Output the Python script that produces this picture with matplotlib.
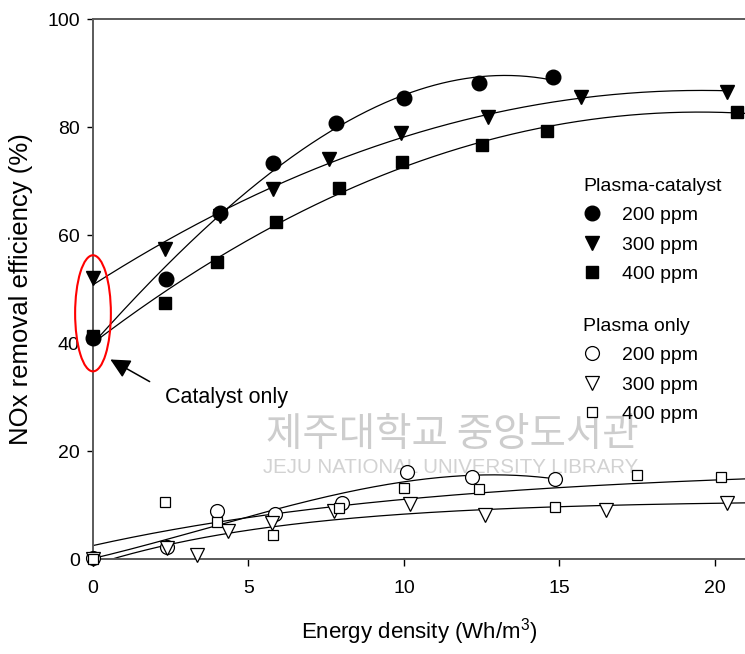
import numpy as np
import matplotlib
matplotlib.use("Agg")
import matplotlib.pyplot as plt
from matplotlib.patches import Ellipse
from matplotlib.lines import Line2D

plt.rcParams['font.family'] = ['Liberation Sans', 'DejaVu Sans']
plt.rcParams['mathtext.fontset'] = 'custom'
plt.rcParams['mathtext.rm'] = 'Liberation Sans'
plt.rcParams['mathtext.it'] = 'Liberation Sans'

# Energy density (Wh/m3) and NOx removal efficiency (%)
# Plasma-catalyst
pc200_x = [0, 2.35, 4.1, 5.8, 7.8, 10.0, 12.4, 14.8]
pc200_y = [40.9, 51.8, 64.0, 73.3, 80.7, 85.4, 88.1, 89.3]
pc300_x = [0, 2.3, 4.1, 5.8, 7.6, 9.9, 12.7, 15.7, 20.4]
pc300_y = [52.0, 57.5, 63.5, 68.5, 74.0, 78.9, 81.9, 85.6, 86.5]
pc400_x = [0, 2.3, 4.0, 5.9, 7.9, 9.95, 12.5, 14.6, 20.7]
pc400_y = [41.3, 47.4, 55.0, 62.4, 68.7, 73.5, 76.7, 79.3, 82.8]

# Plasma only
po200_x = [0, 2.37, 4.0, 5.84, 8.0, 10.1, 12.2, 14.85]
po200_y = [0.2, 2.3, 8.8, 8.3, 10.3, 16.2, 15.1, 14.8]
po300_x = [0, 2.37, 3.36, 4.35, 5.77, 7.75, 10.2, 12.6, 16.5, 20.4]
po300_y = [0, 2.0, 0.7, 5.2, 6.6, 8.8, 10.2, 8.1, 9.1, 10.3]
po400_x = [0, 2.3, 4.0, 5.8, 7.9, 10.0, 12.4, 14.85, 17.5, 20.2]
po400_y = [0, 10.6, 6.9, 4.4, 9.4, 13.1, 12.9, 9.6, 15.6, 15.2]

conc_labels = ["200 ppm", "300 ppm", "400 ppm"]
x_ticks = [0, 5, 10, 15, 20]
y_ticks = [0, 20, 40, 60, 80, 100]


def poly_trend(x, y, deg, x_end):
    coef = np.polyfit(x, y, deg)
    xs = np.linspace(0, x_end, 300)
    return xs, np.polyval(coef, xs)


def rise_trend(x, y, x_end):
    """Least-squares fit of y = y0 + a * (1 - exp(-b x))."""
    x = np.asarray(x, float)
    y = np.asarray(y, float)
    best = None
    for b in np.linspace(0.01, 1.5, 600):
        basis = np.column_stack([np.ones_like(x), 1 - np.exp(-b * x)])
        coef, *_ = np.linalg.lstsq(basis, y, rcond=None)
        err = np.sum((basis @ coef - y) ** 2)
        if best is None or err < best[0]:
            best = (err, b, coef)
    _, b, (y0, a) = best
    xs = np.linspace(0, x_end, 300)
    return xs, y0 + a * (1 - np.exp(-b * xs))


fig = plt.figure(figsize=(7.45, 6.54), dpi=100)
ax = fig.add_axes([93 / 745, 95 / 654, 652 / 745, 540 / 654])
ax.set_xlim(0, 20.97)
ax.set_ylim(0, 100)

# regression curves
line_kw = dict(color='black', lw=0.9, zorder=2)
ax.plot(*poly_trend(pc200_x, pc200_y, 3, max(pc200_x)), **line_kw)
ax.plot(*poly_trend(pc300_x, pc300_y, 2, max(pc300_x)), **line_kw)
ax.plot(*poly_trend(pc400_x, pc400_y, 2, 21), **line_kw)
ax.plot(*poly_trend(po200_x, po200_y, 3, max(po200_x)), **line_kw)
ax.plot(*rise_trend(po300_x, po300_y, 21), **line_kw)
ax.plot(*rise_trend(po400_x, po400_y, 21), **line_kw)

# markers
filled = dict(color='black', ls='none', clip_on=False, zorder=4)
ax.plot(pc200_x, pc200_y, marker='o', ms=10.5, **filled)
ax.plot(pc300_x, pc300_y, marker='v', ms=10.5, **filled)
ax.plot(pc400_x, pc400_y, marker='s', ms=9, **filled)

hollow = dict(mfc='white', mec='black', mew=0.9, ls='none', clip_on=False, zorder=4)
ax.plot(po200_x, po200_y, marker='o', ms=10, **hollow)
ax.plot(po300_x, po300_y, marker='v', ms=10, **hollow)
ax.plot(po400_x, po400_y, marker='s', ms=7.8, **hollow)

# axes styling
for side in ['left', 'top', 'bottom']:
    ax.spines[side].set_color('#5a5a5a')
    ax.spines[side].set_linewidth(1.4)
ax.spines['right'].set_visible(False)
ax.set_xticks(x_ticks)
ax.set_yticks(y_ticks)
ax.tick_params(axis='x', direction='out', length=5, width=1, pad=10, labelsize=14)
ax.tick_params(axis='y', direction='out', length=4.5, width=1, pad=5, labelsize=14)
ax.set_xlabel('Energy density (Wh/m$^{3}$)', fontsize=16, labelpad=14)
ax.set_ylabel('NOx removal efficiency (%)', fontsize=18.5, labelpad=10)

# catalyst-only highlight
ax.add_patch(Ellipse((0, 45.5), width=1.15, height=21.5, edgecolor='red',
                     facecolor='none', lw=1.5, clip_on=False, zorder=5))
ax.annotate('', xy=(0.48, 37.2), xytext=(1.9, 32.6),
            arrowprops=dict(arrowstyle='-|>,head_length=0.6,head_width=0.3',
                            mutation_scale=20, color='black', lw=1.1))
ax.text(2.3, 30.0, 'Catalyst only', fontsize=15.5, ha='left', va='center')

# library watermark
ax.text(0.551, 0.229, '제주대학교 중앙도서관', transform=ax.transAxes,
        family=['Noto Sans CJK KR', 'DejaVu Sans'], fontsize=28.5,
        color='#cdcdcd', ha='center', va='center', zorder=0)
ax.text(0.549, 0.169, 'JEJU NATIONAL UNIVERSITY LIBRARY', transform=ax.transAxes,
        fontsize=14.8, color='#d2d2d2', ha='center', va='center', zorder=0)

# legends
def handles(style):
    marks = ['o', 'v', 's']
    sizes = [10.5, 10.5, 9] if style == 'filled' else [10, 10, 7.8]
    out = []
    for m, s, lab in zip(marks, sizes, conc_labels):
        if style == 'filled':
            out.append(Line2D([], [], marker=m, ms=s, color='black', ls='none', label=lab))
        else:
            out.append(Line2D([], [], marker=m, ms=s, mfc='white', mec='black',
                              mew=0.9, ls='none', label=lab))
    return out

leg_kw = dict(frameon=False, fontsize=14, title_fontsize=14, alignment='left',
              handlelength=0.93, handletextpad=1.1, labelspacing=0.6,
              borderpad=0, borderaxespad=0, loc='upper left')
leg1 = ax.legend(handles=handles('filled'), title='Plasma-catalyst',
                 bbox_to_anchor=((583 - 93) / 652, (559 - 178) / 540), **leg_kw)
ax.add_artist(leg1)
ax.legend(handles=handles('hollow'), title='Plasma only',
          bbox_to_anchor=((583 - 93) / 652, (559 - 318) / 540), **leg_kw)

fig.savefig('out.png', dpi=100)
